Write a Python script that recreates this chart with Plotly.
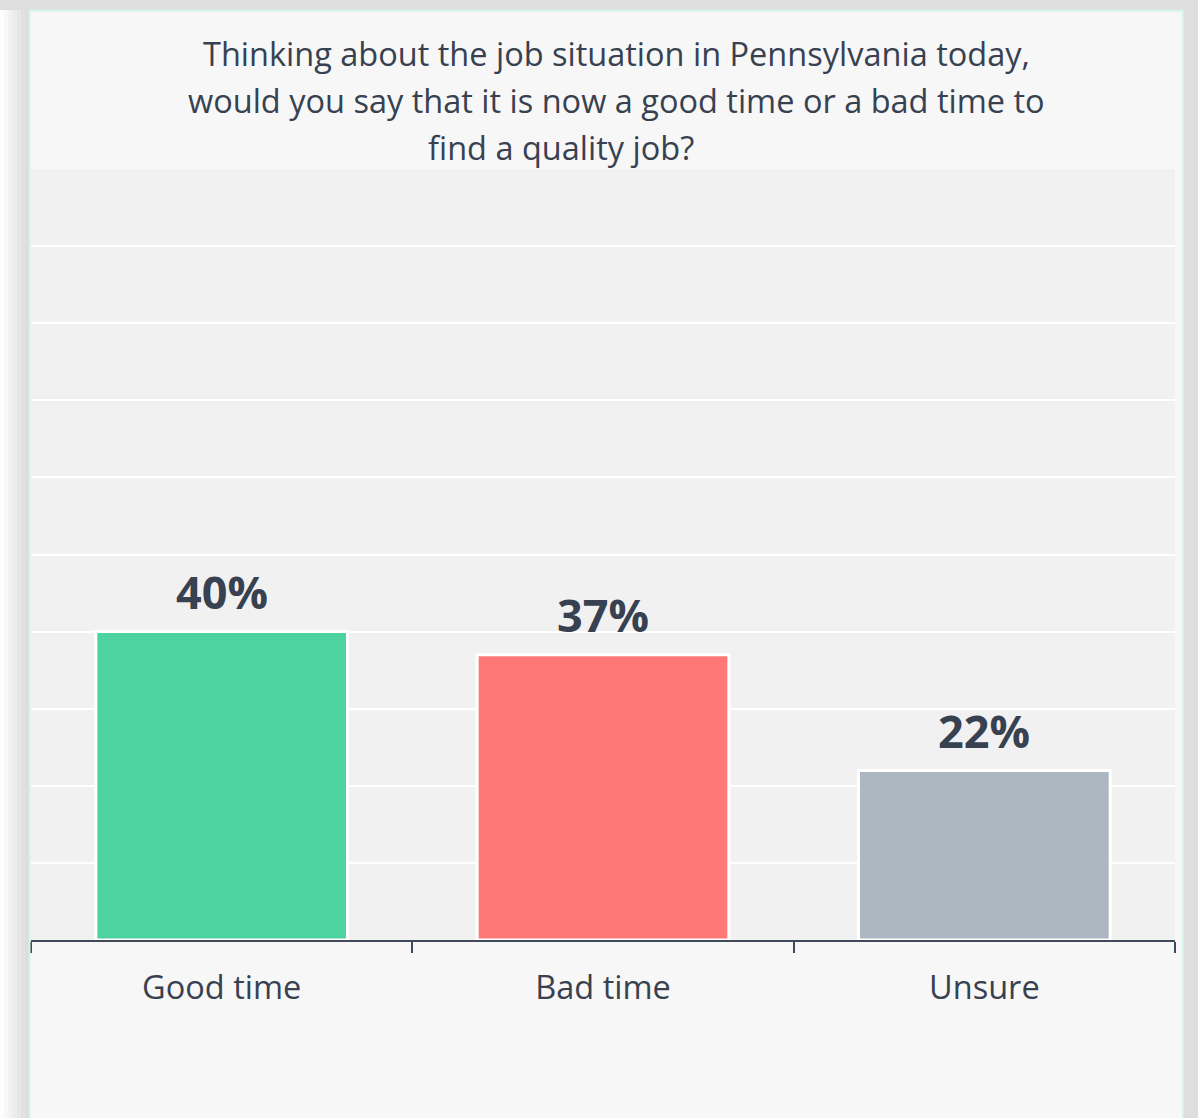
import plotly.graph_objects as go

categories = ["Good time", "Bad time", "Unsure"]
values = [40, 37, 22]
value_labels = ["40%", "37%", "22%"]
bar_colors = ["#4cd3a0", "#ff7878", "#acb7c2"]
title_lines = [
    "Thinking about the job situation in Pennsylvania today,",
    "would you say that it is now a good time or a bad time to",
    "find a quality job?",
]

W, H = 1198, 1118
L, R, T, B = 31, 23, 169, 178
PW, PH = W - L - R, H - T - B
TEXT = "#374150"
FONT = "'Open Sans', 'Noto Sans', sans-serif"


def px(x):
    return (x - L) / PW


def py(y):
    return (H - B - y) / PH


fig = go.Figure(
    go.Bar(
        x=categories,
        y=values,
        marker=dict(color=bar_colors, line=dict(color="white", width=3)),
        width=0.66,
        hoverinfo="skip",
    )
)

shapes = []
# card shadow (outside plot area)
grays = ["#fdfdfd", "#f8f8f8", "#f2f2f2", "#ececec", "#e6e6e6", "#e1e1e1", "#dddddd"]
n = len(grays)
for i, g in enumerate(grays):
    x0 = i * 29 / n
    x1 = (i + 1) * 29 / n
    shapes.append(dict(type="rect", xref="paper", yref="paper", x0=px(x0), x1=px(x1),
                       y0=py(H + 5), y1=py(10), fillcolor=g, line=dict(width=0), layer="above"))
shapes.append(dict(type="rect", xref="paper", yref="paper", x0=px(0), x1=px(W + 5),
                   y0=py(10), y1=py(-5), fillcolor="#dedede", line=dict(width=0), layer="above"))
shapes.append(dict(type="rect", xref="paper", yref="paper", x0=px(1184), x1=px(W + 5),
                   y0=py(H + 5), y1=py(-5), fillcolor="#dedede", line=dict(width=0), layer="above"))
# mint card border
shapes.append(dict(type="rect", xref="paper", yref="paper", x0=px(29.5), x1=px(1183),
                   y0=py(H + 20), y1=py(10.5), fillcolor="rgba(0,0,0,0)",
                   line=dict(color="#d3f3e8", width=2), layer="above"))

annotations = []
for i, line in enumerate(title_lines):
    annotations.append(dict(
        text=line, xref="paper", yref="paper", x=px(617 if i < 2 else 561), y=py(53 + 47 * i),
        xanchor="center", yanchor="middle", showarrow=False,
        font=dict(family=FONT, size=32.5, color=TEXT),
    ))
for c, v, t in zip(categories, values, value_labels):
    annotations.append(dict(
        text="<b>%s</b>" % t, x=c, y=v, xref="x", yref="y",
        xanchor="center", yanchor="middle", yshift=40, showarrow=False,
        font=dict(family=FONT, size=45, color=TEXT),
    ))

fig.update_layout(
    width=W, height=H,
    margin=dict(l=L, r=R, t=T, b=B, pad=0),
    paper_bgcolor="#f7f7f7",
    plot_bgcolor="#f1f1f1",
    showlegend=False,
    shapes=shapes,
    annotations=annotations,
    xaxis=dict(
        showline=True, linecolor="#404a59", linewidth=2,
        ticks="outside", tickson="boundaries", ticklen=11, tickwidth=2, tickcolor="#404a59",
        tickfont=dict(family=FONT, size=32.5, color=TEXT),
        ticklabelstandoff=18,
        showgrid=False, fixedrange=True,
    ),
    yaxis=dict(
        range=[0, 100], dtick=10, showticklabels=False, showgrid=True,
        gridcolor="#ffffff", gridwidth=2, zeroline=False, showline=False, fixedrange=True,
    ),
)

fig.write_html("out.html", config={"displayModeBar": False},
               post_script="document.body.style.margin='0';")
